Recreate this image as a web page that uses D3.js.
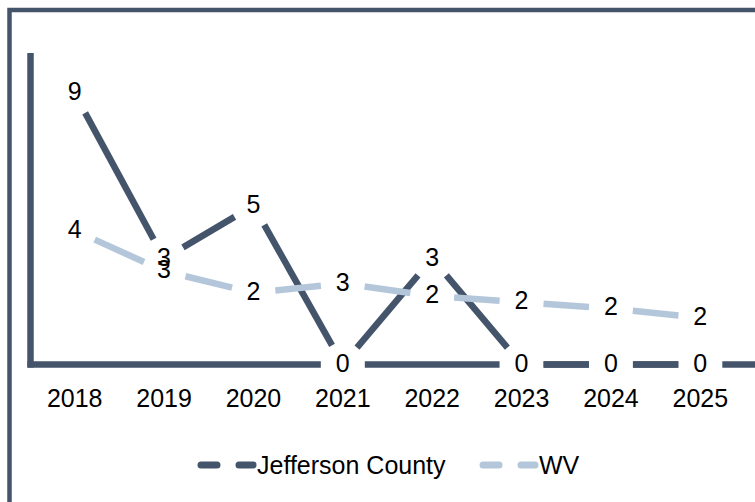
<!DOCTYPE html>
<html>
<head>
<meta charset="utf-8">
<script src="https://cdn.jsdelivr.net/npm/d3@7"></script>
<style>
  html, body { margin: 0; padding: 0; background: #fff; }
  svg { display: block; font-family: "Liberation Sans", Arial, sans-serif; }
  .val-label, .tick-label { font-size: 25px; fill: #000; }
  .legend-label { font-size: 25px; fill: #000; }
</style>
</head>
<body>
<svg id="chart" width="755" height="502"></svg>
<script>
// chart data
const years = ['2018', '2019', '2020', '2021', '2022', '2023', '2024', '2025'];
const jeffersonValues = [8.7, 3.4, 5.1, 0, 3.4, 0, 0, 0];
const wvValues = [4.3, 3.0, 2.3, 2.6, 2.2, 2.0, 1.8, 1.5];
const seriesNames = ['Jefferson County', 'WV'];

const dark = '#44546a';
const light = '#b4c7da';

const series = [
  { name: seriesNames[0], values: jeffersonValues, color: dark },
  { name: seriesNames[1], values: wvValues, color: light }
];

const svg = d3.select('#chart');

// outer frame, only top and left edges fall inside the window
svg.append('rect')
  .attr('x', 9.5)
  .attr('y', 10)
  .attr('width', 900)
  .attr('height', 700)
  .attr('fill', 'none')
  .attr('stroke', dark)
  .attr('stroke-width', 4.5);

const x = d3.scalePoint()
  .domain(years)
  .range([30, 745])
  .padding(0.5);

const y = d3.scaleLinear()
  .domain([0, 10])
  .range([364.5, 53]);

// axes lines
svg.append('line')
  .attr('x1', 30.5).attr('x2', 30.5)
  .attr('y1', y(10)).attr('y2', y(0) + 3)
  .attr('stroke', dark)
  .attr('stroke-width', 6.5);

svg.append('line')
  .attr('x1', 27.5).attr('x2', 770)
  .attr('y1', y(0)).attr('y2', y(0))
  .attr('stroke', dark)
  .attr('stroke-width', 6.5);

// labels sitting on the baseline knock the axis line out
const labelData = [];
series.forEach(s => {
  s.values.forEach((v, i) => labelData.push({ year: years[i], value: v, series: s }));
});

svg.append('g')
  .selectAll('rect')
  .data(labelData.filter(d => d.value === 0))
  .join('rect')
  .attr('x', d => x(d.year) - 22)
  .attr('y', d => y(d.value) - 6)
  .attr('width', 44)
  .attr('height', 12)
  .attr('fill', '#fff');

// series lines: each segment stops short of the points so the labels stay clear
const gap = 22;
function segments(values) {
  const out = [];
  for (let i = 0; i < values.length - 1; i++) {
    const x1 = x(years[i]), y1 = y(values[i]);
    const x2 = x(years[i + 1]), y2 = y(values[i + 1]);
    const len = Math.hypot(x2 - x1, y2 - y1);
    const ux = (x2 - x1) / len, uy = (y2 - y1) / len;
    out.push({
      x1: x1 + ux * gap, y1: y1 + uy * gap,
      x2: x2 - ux * gap, y2: y2 - uy * gap
    });
  }
  return out;
}

series.forEach(s => {
  svg.append('g')
    .attr('class', 'series')
    .selectAll('line')
    .data(segments(s.values))
    .join('line')
    .attr('x1', d => d.x1).attr('y1', d => d.y1)
    .attr('x2', d => d.x2).attr('y2', d => d.y2)
    .attr('stroke', s.color)
    .attr('stroke-width', 6.5)
    .attr('stroke-linecap', 'butt');
});

// data labels
svg.append('g')
  .selectAll('text')
  .data(labelData)
  .join('text')
  .attr('class', 'val-label')
  .attr('x', d => x(d.year))
  .attr('y', d => y(d.value) - 2)
  .attr('text-anchor', 'middle')
  .attr('dominant-baseline', 'central')
  .text(d => d3.format('.0f')(d.value));

// category labels
svg.append('g')
  .selectAll('text')
  .data(years)
  .join('text')
  .attr('class', 'tick-label')
  .attr('x', d => x(d))
  .attr('y', 407)
  .attr('text-anchor', 'middle')
  .text(d => d);

// legend
const legend = svg.append('g').attr('class', 'legend');
const legendX = [198, 480];
series.forEach((s, i) => {
  const g = legend.append('g').attr('transform', `translate(${legendX[i]},465)`);
  g.append('line')
    .attr('x1', 3).attr('x2', 55)
    .attr('y1', 0).attr('y2', 0)
    .attr('stroke', s.color)
    .attr('stroke-width', 7)
    .attr('stroke-linecap', 'round')
    .attr('stroke-dasharray', '16,22');
  g.append('text')
    .attr('class', 'legend-label')
    .attr('x', 59)
    .attr('y', 8.5)
    .text(s.name);
});
</script>
</body>
</html>
